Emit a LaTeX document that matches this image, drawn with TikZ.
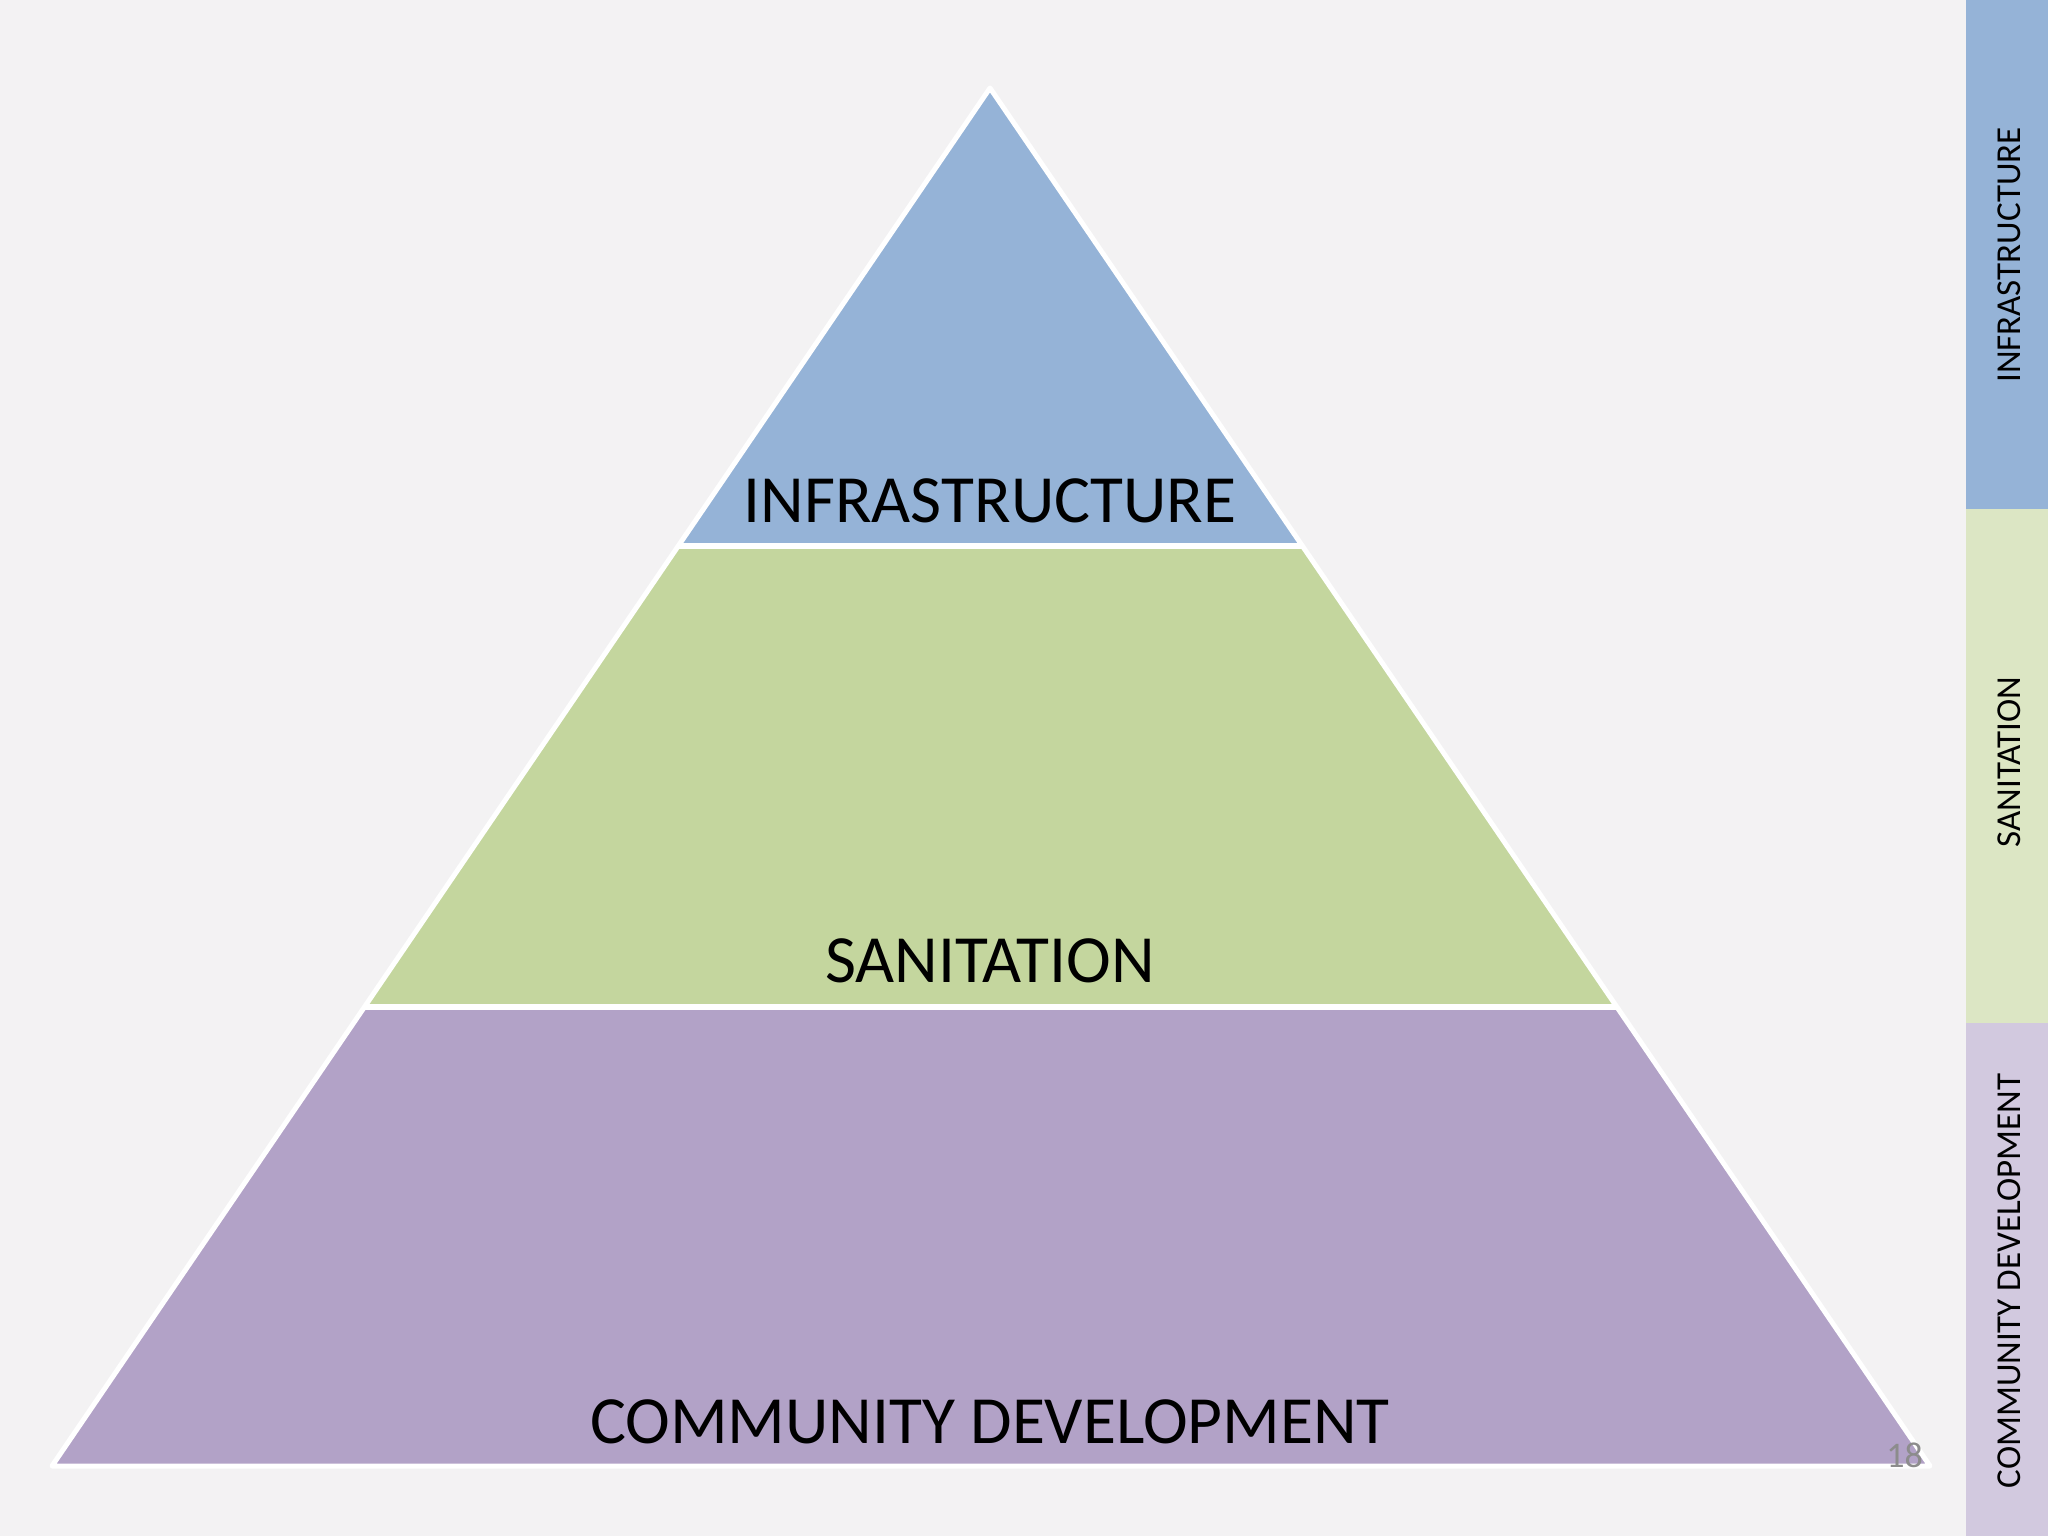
\documentclass[tikz,border=0pt]{standalone}
\usepackage{fontspec}
\setmainfont{Carlito}
\definecolor{bg}{HTML}{F3F2F3}
\definecolor{lblue}{HTML}{95B3D7}
\definecolor{lgreen}{HTML}{C4D69E}
\definecolor{lpurple}{HTML}{B2A2C7}
\definecolor{sgreen}{HTML}{DCE6C4}
\definecolor{spurple}{HTML}{D2C9DF}
\definecolor{pgray}{HTML}{8C8C8C}
\tikzset{
  layerlabel/.style={anchor=base, inner sep=0pt, font=\fontsize{67.5}{80}\selectfont, text=black},
  striplabel/.style={rotate=90, inner sep=0pt, font=\fontsize{35}{40}\selectfont, text=black},
  whiteline/.style={draw=white, line width=6pt},
}
\begin{document}
\begin{tikzpicture}[x=1pt,y=-1pt]
\useasboundingbox (0,0) rectangle (2048,1536);
\fill[bg] (0,0) rectangle (2048,1536);
% coordinates
\coordinate (apex) at (990,88);
\coordinate (bl) at (52,1466);
\coordinate (br) at (1930,1466);
\coordinate (l1) at (678,546);
\coordinate (r1) at (1302,546);
\coordinate (l2) at (364,1007);
\coordinate (r2) at (1616,1007);
% layers
\fill[lblue] (apex) -- (r1) -- (l1) -- cycle;
\fill[lgreen] (l1) -- (r1) -- (r2) -- (l2) -- cycle;
\fill[lpurple] (l2) -- (r2) -- (br) -- (bl) -- cycle;
\draw[draw=white, line width=5pt, line join=round] (apex) -- (br) -- (bl) -- cycle;
\draw[whiteline] (l1) -- (r1);
\draw[whiteline] (l2) -- (r2);
% labels
\node[layerlabel] (t1) at (990,522) {INFRASTRUCTURE};
\node[layerlabel] (t2) at (990,982) {SANITATION};
\node[layerlabel] (t3) at (990,1443) {COMMUNITY DEVELOPMENT};
% side strip
\fill[lblue] (1966,0) rectangle (2048,509);
\fill[sgreen] (1966,509) rectangle (2048,1023);
\fill[spurple] (1966,1023) rectangle (2048,1536);
\node[striplabel] (s1) at (2009,255) {INFRASTRUCTURE};
\node[striplabel] (s2) at (2009,762) {SANITATION};
\node[striplabel] (s3) at (2009,1281) {COMMUNITY DEVELOPMENT};
% page number
\node[anchor=base east, inner sep=0pt, font=\fontsize{36}{40}\selectfont, text=pgray] (pn) at (1923,1467) {18};
\end{tikzpicture}
\end{document}
